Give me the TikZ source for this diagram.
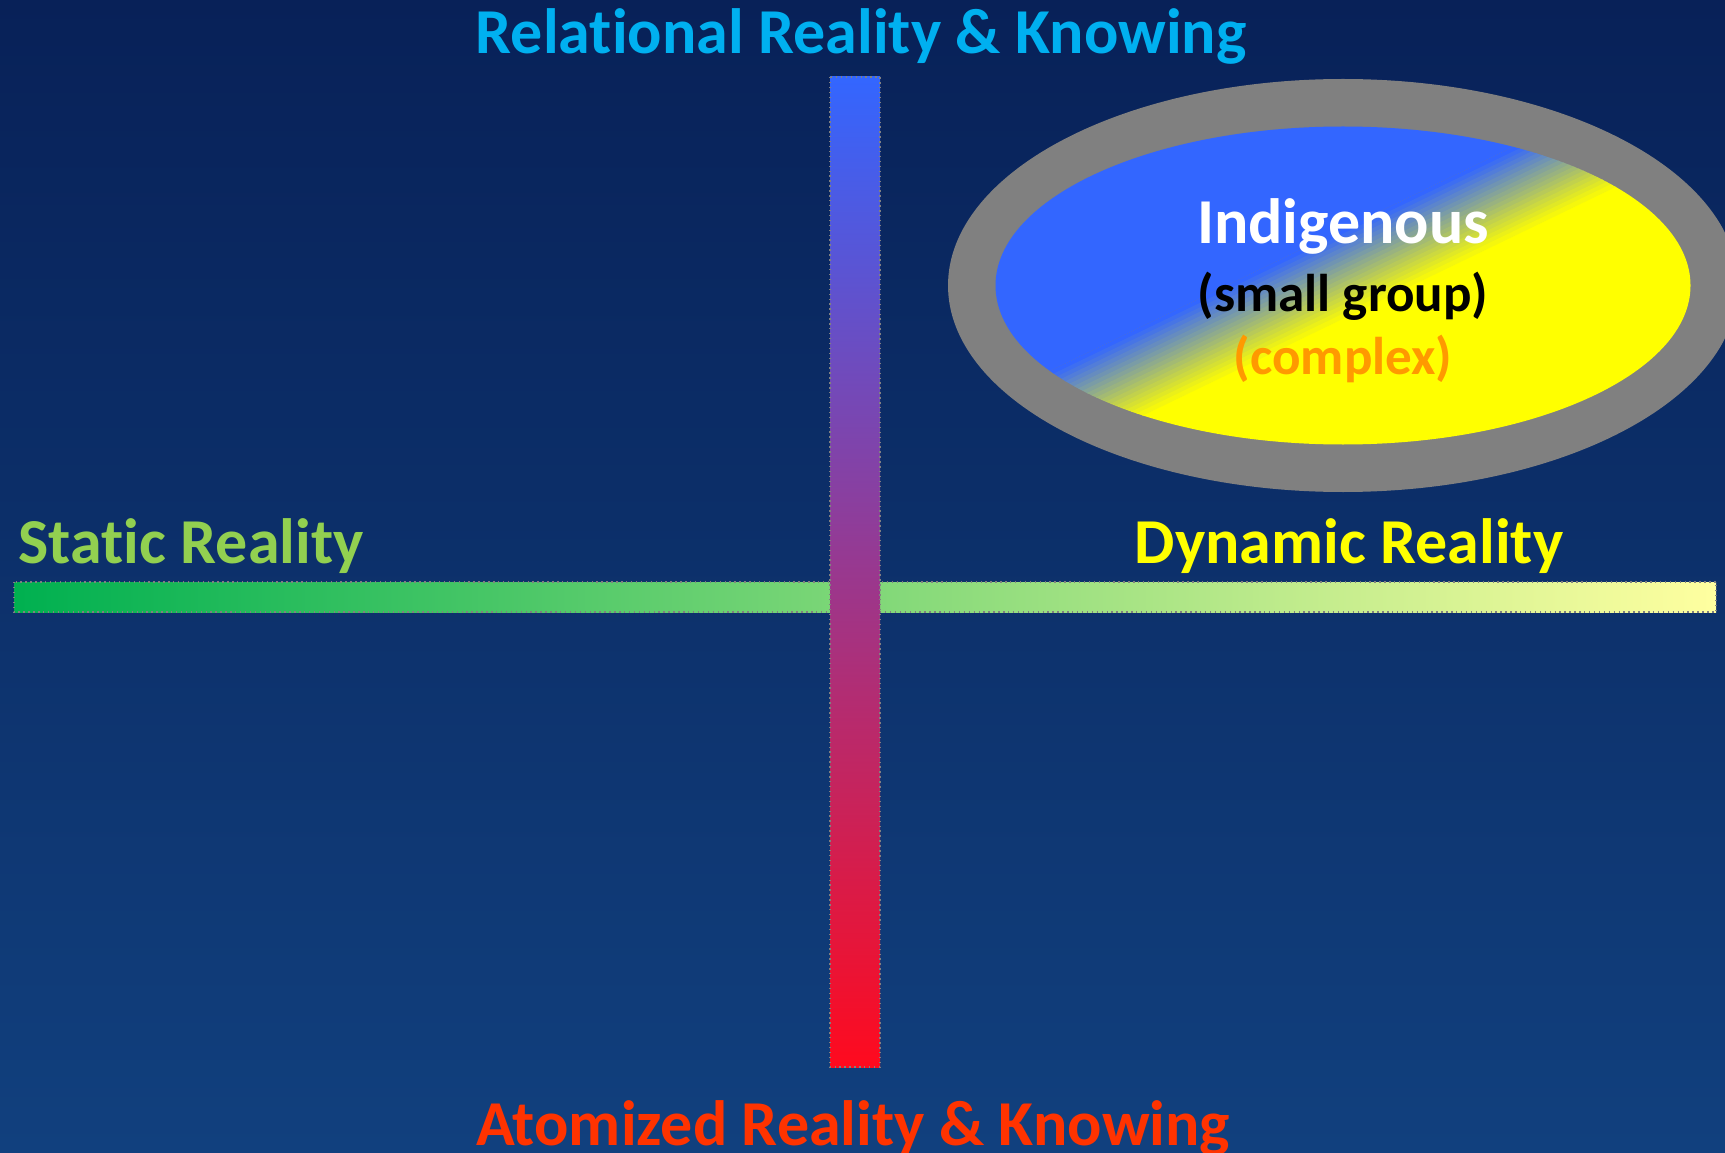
\documentclass[tikz,border=0pt]{standalone}
\usepackage{fontspec}
\setmainfont{Carlito}[Ligatures=NoCommon]
\definecolor{bgtop}{RGB}{8,33,88}
\definecolor{bgbot}{RGB}{17,64,126}
\definecolor{blueE}{RGB}{51,102,255}
\definecolor{yellowE}{RGB}{255,255,0}
\definecolor{ringgray}{RGB}{128,128,128}
\definecolor{vtop}{RGB}{51,102,255}
\definecolor{vmid}{RGB}{176,72,196}
\definecolor{vbot}{RGB}{255,10,30}
\definecolor{hleft}{RGB}{0,176,80}
\definecolor{hmid}{RGB}{160,226,120}
\definecolor{hright}{RGB}{255,255,160}
\definecolor{reltxt}{RGB}{0,176,240}
\definecolor{atomtxt}{RGB}{255,51,0}
\definecolor{stattxt}{RGB}{146,208,80}
\definecolor{dyntxt}{RGB}{255,255,0}
\definecolor{cplxtxt}{RGB}{255,153,0}
\begin{document}
\begin{tikzpicture}[x=0.01cm,y=-0.01cm,
  bigtxt/.style={inner sep=0pt,anchor=base,font=\bfseries\fontsize{18.2pt}{22pt}\selectfont},
  midtxt/.style={inner sep=0pt,anchor=base,font=\bfseries\fontsize{15.1pt}{18pt}\selectfont},
  barline/.style={draw=ringgray,densely dotted,line width=0.4pt}]
\useasboundingbox (0,0) rectangle (1725,1152);
\shade[top color=bgtop,bottom color=bgbot] (0,0) rectangle (1725,1152);
% horizontal bar
\shade[barline,left color=hleft,middle color=hmid,right color=hright] (14,582) rectangle (1716,612);
% vertical bar
\shade[barline,top color=vtop,middle color=vmid,bottom color=vbot] (830,77) rectangle (880,1067);
% ellipse
\fill[ringgray] (1343,285.5) ellipse [x radius=395,y radius=206.5];
\begin{scope}
\clip (1343,285.5) ellipse [x radius=347.5,y radius=159];
\begin{scope}[shift={(1334,278)},rotate=25.8]
\fill[blueE] (-900,-700) rectangle (900,-40);
\fill[yellowE] (-900,40) rectangle (900,700);
\foreach \i in {0,...,19}{
  \pgfmathsetmacro{\pc}{100-5*\i}
  \fill[blueE!\pc!yellowE] (-900,{-40+4*\i}) rectangle (900,{-40+4*(\i+1)+0.6});
}
\end{scope}
\end{scope}
% texts
\node[bigtxt,text=reltxt] (rel) at (861,54) {Relational Reality \& Knowing};
\node[bigtxt,text=atomtxt] (atom) at (853,1145) {Atomized Reality \& Knowing};
\node[bigtxt,text=stattxt,anchor=base west] (stat) at (18,563) {Static Reality};
\node[bigtxt,text=dyntxt,anchor=base east] (dyn) at (1564,563) {Dynamic Reality};
\node[bigtxt,text=white] (ind) at (1343,244) {Indigenous};
\node[midtxt,text=black] (sg) at (1343,311) {(small group)};
\node[midtxt,text=cplxtxt] (cx) at (1343,374) {(complex)};
\end{tikzpicture}
\end{document}
